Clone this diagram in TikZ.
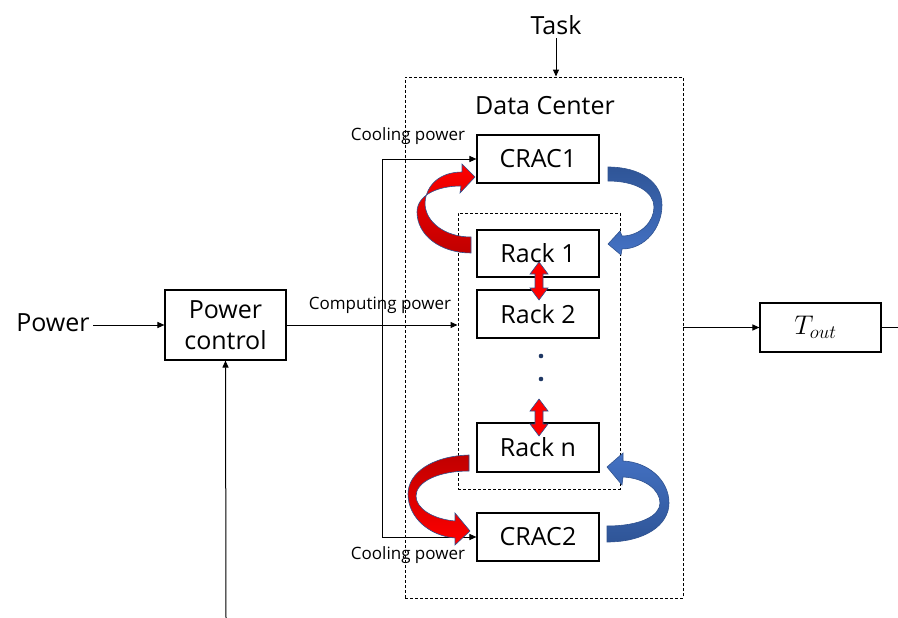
\documentclass[tikz,border=0pt]{standalone}
\usepackage{fix-cm}
\usepackage{fontspec}
\setmainfont{Open Sans}
\usetikzlibrary{arrows.meta}

\definecolor{redhi}{HTML}{FF0000}
\definecolor{redlo}{HTML}{C00000}
\definecolor{bluehi}{HTML}{4472C4}
\definecolor{bluelo}{HTML}{2F5597}
\definecolor{edge}{HTML}{2F528F}
\definecolor{dotcol}{HTML}{1F3864}

\tikzset{
  bigtxt/.style={font=\fontsize{25}{31}\selectfont},
  smalltxt/.style={font=\fontsize{17}{20}\selectfont},
  box/.style={draw, line width=1.1pt, inner sep=0pt, bigtxt, align=center},
  dashbox/.style={draw, line width=0.9pt, dash pattern=on 3pt off 2pt, inner sep=0pt},
  conn/.style={line width=1pt, -{Triangle[length=7pt,width=6pt]}},
  flow/.style={draw=edge, line width=0.6pt},
  dbl/.style={draw=edge, line width=0.6pt, fill=redhi},
}

\begin{document}
\begin{tikzpicture}[x=1pt,y=-1pt]
\useasboundingbox (0,0) rectangle (898,618);

% enclosures
\node[dashbox, minimum width=278pt, minimum height=521pt] (dc) at (544,337.5) {};
\node[dashbox, minimum width=162pt, minimum height=276pt] (racks) at (539,351) {};
\node[bigtxt] (dctitle) at (545,106) {Data Center};

% blocks
\node[box, minimum width=121pt, minimum height=70pt] (pc) at (225.5,325) {Power\\control};
\node[box, minimum width=122pt, minimum height=48pt] (crac1) at (538,159) {CRAC1};
\node[box, minimum width=122pt, minimum height=47pt] (rack1) at (538,253.5) {Rack 1};
\node[box, minimum width=122pt, minimum height=48pt] (rack2) at (538,314) {Rack 2};
\node[box, minimum width=122pt, minimum height=49pt] (rackn) at (538,447.5) {Rack n};
\node[box, minimum width=122pt, minimum height=48pt] (crac2) at (538,537) {CRAC2};
\node[box, minimum width=121pt, minimum height=49pt, font=\fontsize{27}{30}\selectfont] (tout) at (820.5,327.5) {$T_{out}$\hspace{10pt}};

% labels
\node[bigtxt] (pw) at (53,323) {Power};
\node[bigtxt] (task) at (556,25) {Task};
\node[smalltxt] (coolup) at (408,136) {Cooling power};
\node[smalltxt] (cooldn) at (408,555) {Cooling power};
\node[smalltxt] (comp) at (380,305) {Computing power};

% ellipsis between racks
\fill[dotcol] (541,356) circle (2.3);
\fill[dotcol] (541,379) circle (2.3);

% connectors
\coordinate (split) at (382,325);
\coordinate (ctrlin) at (226,618);
\coordinate (outend) at (898,327.5);
\draw[conn] (task) -- (task |- dc.north);
\draw[conn] (pw.east |- pc.west) -- (pc.west);
\draw[conn] (ctrlin) -- (pc.south);
\draw[conn] (pc.east) -- (pc.east -| racks.west);
\draw[conn] (split) |- (crac1.west);
\draw[conn] (split) |- (crac2.west);
\draw[conn] (dc.east |- tout.west) -- (tout.west);
\draw[line width=1pt] (tout.east) -- (outend);

% air flow: hot air from racks to CRAC units
\shade[flow, top color=redhi, bottom color=redlo]
  (471,253) .. controls (440,253) and (417,235) .. (417,212)
  .. controls (417,196) and (436,186) .. (461,186)
  -- (460,193) -- (475,177) -- (462,164) -- (462,172)
  .. controls (440,172) and (426,185) .. (425,203)
  .. controls (425,222) and (445,237) .. (471,237) -- cycle;
\shade[flow, top color=redlo, bottom color=redhi]
  (469,455) .. controls (432,456) and (408,473) .. (408,494)
  .. controls (408,518) and (430,536) .. (455,538)
  -- (455,545) -- (470,531) -- (455,513) -- (455,521)
  .. controls (432,519) and (416,508) .. (416,496)
  .. controls (416,482) and (438,471) .. (469,471) -- cycle;

% air flow: cold air from CRAC units to racks
\shade[flow, top color=bluelo, bottom color=bluehi]
  (608,167) .. controls (640,167) and (662,182) .. (662,205)
  .. controls (662,228) and (645,249) .. (622,249)
  -- (621,255) -- (608,244) -- (620,231) -- (622,236)
  .. controls (640,236) and (654,222) .. (654,207)
  .. controls (654,192) and (636,181) .. (608,181) -- cycle;
\shade[flow, top color=bluehi, bottom color=bluelo]
  (607,542) .. controls (645,542) and (669,525) .. (669,503)
  .. controls (669,480) and (648,462) .. (623,461)
  -- (623,453) -- (607,467) -- (622,485) -- (623,477)
  .. controls (645,478) and (660,490) .. (660,503)
  .. controls (660,516) and (640,526) .. (607,526) -- cycle;

% exchange between neighbouring racks
\path[dbl] (539,262) -- (548,274) -- (543,274) -- (543,288) -- (548,288)
  -- (539,300) -- (530,288) -- (535,288) -- (535,274) -- (530,274) -- cycle;
\path[dbl] (539,399) -- (548,411) -- (543,411) -- (543,424) -- (548,424)
  -- (539,436) -- (530,424) -- (535,424) -- (535,411) -- (530,411) -- cycle;
\end{tikzpicture}
\end{document}
